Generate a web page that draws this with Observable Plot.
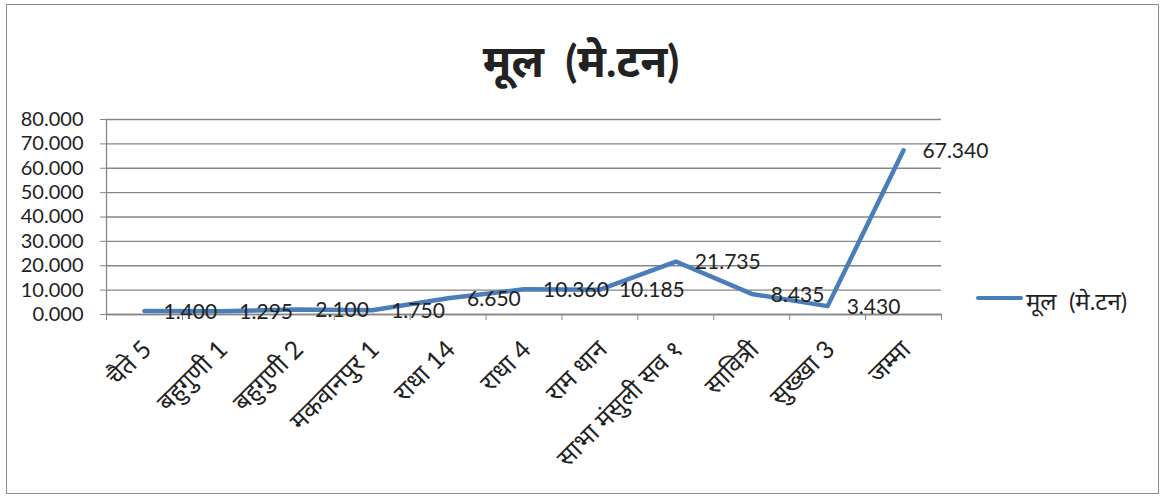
<!DOCTYPE html>
<html>
<head>
<meta charset="utf-8">
<script src="https://cdn.jsdelivr.net/npm/d3@7"></script>
<script src="https://cdn.jsdelivr.net/npm/@observablehq/plot@0.6"></script>
<style>
  body { margin: 0; background: #fff; }
  #wrap { position: relative; width: 1166px; height: 497px; overflow: hidden; font-family: Lato, "Noto Sans", sans-serif; }
  #border { position: absolute; left: 6px; top: 4px; width: 1153px; height: 490px; border: 1px solid #8c8c8c; box-sizing: border-box; }
  #title { position: absolute; left: 0; width: 1162px; top: 34px; line-height: 1.2; text-align: center; font-size: 44px; font-weight: bold; color: #222; }
  #legend { position: absolute; left: 976px; top: 284px; display: flex; align-items: center; font-size: 24px; color: #222; }
  #legend .sw { width: 47px; height: 4px; background: #4a7ebb; border-radius: 2px; margin-right: 3px; margin-top: -6px; }
  #chart { position: absolute; left: 0; top: 0; }
</style>
</head>
<body>
<div id="wrap">
  <div id="border"></div>
  <div id="chart"></div>
  <div id="title">मूल&nbsp; (मे.टन)</div>
  <div id="legend"><div class="sw"></div><span>मूल&nbsp; (मे.टन)</span></div>
</div>
<script>
const categories = ["चैते 5", "बहुगुणी 1", "बहुगुणी 2", "मकवानपुर 1", "राधा 14", "राधा 4", "राम धान", "साभा मंसुली सव १", "सावित्री", "सुख्खा 3", "जम्मा"];
const values = [1.400, 1.295, 2.100, 1.750, 6.650, 10.360, 10.185, 21.735, 8.435, 3.430, 67.340];
const yTicks = [0, 10, 20, 30, 40, 50, 60, 70, 80];

const data = categories.map((c, i) => ({i, c, v: values[i]}));
const n = categories.length;
const boundaries = d3.range(n + 1).map(k => k - 0.5);

const chart = Plot.plot({
  width: 1166,
  height: 497,
  marginLeft: 106,
  marginRight: 225,
  marginTop: 119,
  marginBottom: 183,
  style: { fontFamily: 'Lato, "Noto Sans", sans-serif', fontSize: "20px", color: "#222", background: "transparent" },
  x: { type: "linear", domain: [-0.5, n - 0.5] },
  y: { domain: [0, 80] },
  marks: [
    Plot.gridY(yTicks, { stroke: "#868686", strokeOpacity: 1, strokeWidth: 1.3, x1: -0.5, x2: n - 0.5 }),
    Plot.ruleX([-0.5], { stroke: "#868686", strokeWidth: 1.3 }),
    Plot.ruleY([0], { stroke: "#868686", strokeWidth: 1.3 }),
    Plot.axisY({ ticks: yTicks, tickFormat: d => d.toFixed(3), tickSize: 6, tickPadding: 17, stroke: "#868686", fill: "#222", fontSize: 20, label: null }),
    Plot.axisX({ ticks: boundaries, tickFormat: () => "", tickSize: 6, stroke: "#868686", label: null }),
    Plot.text(data, { x: "i", frameAnchor: "bottom", text: "c", rotate: -45, textAnchor: "end", lineAnchor: "top", dx: -4, dy: 24, fontSize: 25, fill: "#222" }),
    Plot.line(data, { x: "i", y: "v", stroke: "#4a7ebb", strokeWidth: 4.5, strokeLinejoin: "round", strokeLinecap: "round" }),
    Plot.text(data, { x: "i", y: "v", text: d => d.v.toFixed(3), textAnchor: "start", dx: 19, dy: 1, fontSize: 21, fill: "#222" })
  ]
});
document.getElementById("chart").appendChild(chart);
</script>
</body>
</html>
